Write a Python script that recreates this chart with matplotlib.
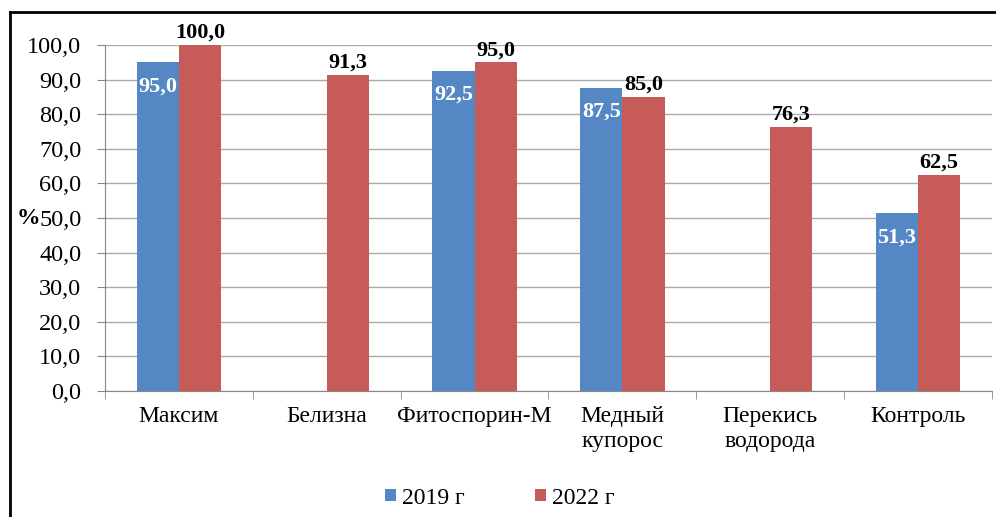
import matplotlib.pyplot as plt
import numpy as np
from matplotlib.lines import Line2D

categories = ["Максим", "Белизна", "Фитоспорин-М", "Медный\nкупорос", "Перекись\nводорода", "Контроль"]
y2019 = [95.0, None, 92.5, 87.5, None, 51.3]
y2022 = [100.0, 91.3, 95.0, 85.0, 76.3, 62.5]

blue = "#5587C4"
red = "#C65B58"

plt.rcParams['font.family'] = ['Liberation Serif', 'DejaVu Serif']

fig = plt.figure(figsize=(9.96, 5.17), dpi=100)
ax = fig.add_axes([0.1054, 0.2437, 0.8906, 0.6693])

x = np.arange(len(categories))
w = 0.285

v19 = [np.nan if v is None else v for v in y2019]
b1 = ax.bar(x - w / 2, v19, w, color=blue, zorder=3, label="2019 г")
b2 = ax.bar(x + w / 2, y2022, w, color=red, zorder=3, label="2022 г")

for xi, v in zip(x, y2019):
    if v is not None:
        ax.text(xi - w / 2, v - 4.0, f"{v:.1f}".replace(".", ","), ha='center', va='top',
                color='white', fontsize=16, fontweight='bold', zorder=4)
for xi, v in zip(x, y2022):
    ax.text(xi + w / 2, v + 0.6, f"{v:.1f}".replace(".", ","), ha='center', va='bottom',
            color='black', fontsize=16, fontweight='bold', zorder=4)

ax.set_xlim(-0.5, len(categories) - 0.5)
ax.set_ylim(0, 100)
ax.set_yticks(np.arange(0, 101, 10))
ax.set_yticklabels([f"{t:.1f}".replace(".", ",") for t in np.arange(0, 101, 10)], fontsize=17.5)
ax.set_xticks(x)
ax.set_xticklabels(categories, fontsize=17, linespacing=1.25)
ax.set_xticks(np.arange(-0.5, len(categories)), minor=True)
ax.tick_params(axis='x', which='major', length=0, pad=11)
ax.tick_params(axis='x', which='minor', length=6, color='#888888')
ax.tick_params(axis='y', length=6, color='#888888', pad=11)

ax.grid(axis='y', color='#AAAAAA', linewidth=1, zorder=0)
for s in ['top', 'right']:
    ax.spines[s].set_visible(False)
for s in ['left', 'bottom']:
    ax.spines[s].set_color('#888888')

fig.text(0.029, 1 - 218 / 517, "%", fontsize=17, fontweight='bold', ha='center', va='center')

fig.legend(handles=[b1, b2], loc='center', bbox_to_anchor=(0.502, 1 - 498 / 517), ncol=2,
           frameon=False, fontsize=17, handlelength=0.45, handleheight=0.45,
           handletextpad=0.25, columnspacing=3.0)

fig.add_artist(Line2D([10 / 996, 1], [1 - 12 / 517, 1 - 12 / 517], color='black', linewidth=2,
                      transform=fig.transFigure))
fig.add_artist(Line2D([10 / 996, 10 / 996], [0, 1 - 12 / 517], color='black', linewidth=2,
                      transform=fig.transFigure))

fig.savefig("out.png", dpi=100)
